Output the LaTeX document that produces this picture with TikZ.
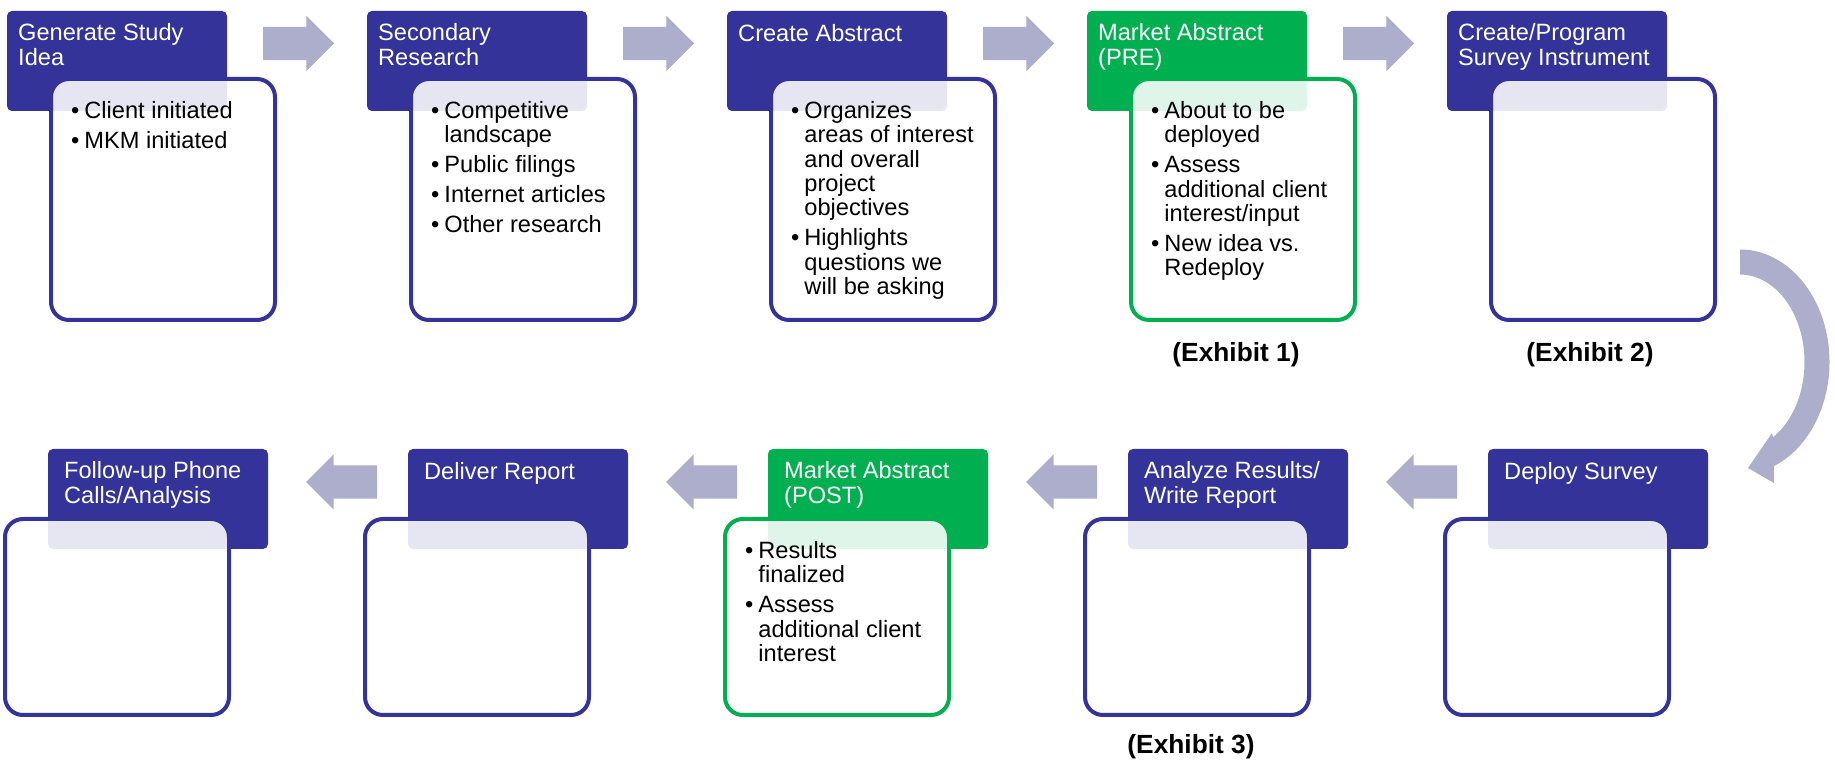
\documentclass[tikz,border=0pt]{standalone}
\usepackage{fontspec}
\setmainfont{Liberation Sans}
\usetikzlibrary{shapes.arrows}
\definecolor{hdrblue}{HTML}{333399}
\definecolor{hdrgreen}{HTML}{00B050}
\definecolor{arrowgray}{HTML}{ADADCC}
\newcommand{\bullets}[1]{\begin{tabular}{@{}l@{\hspace{5pt}}l@{}}#1\end{tabular}}
\tikzset{
  hdr/.style={rectangle, rounded corners=5pt, fill=#1, anchor=north west,
    minimum width=220pt, minimum height=100pt, inner sep=0pt, outer sep=0pt},
  hdr/.default=hdrblue,
  bodybox/.style={rectangle, rounded corners=18pt, draw=#1, line width=4pt,
    fill=white, fill opacity=0.88, anchor=north west, minimum width=224pt,
    inner sep=0pt, outer sep=0pt},
  bodybox/.default=hdrblue,
  hdrtext/.style={anchor=north west, inner sep=0pt, align=left, text=white,
    font=\fontsize{23.6}{25}\selectfont, execute at begin node=\strut},
  listtext/.style={anchor=north west, inner sep=0pt,
    font=\fontsize{23.6}{24.3}\selectfont},
  blockarr/.style={single arrow, fill=arrowgray, minimum height=71pt,
    inner xsep=0pt, inner ysep=16.5pt, single arrow head extend=11pt,
    single arrow head indent=0pt, outer sep=0pt, anchor=tail},
  exh/.style={anchor=base, inner sep=0pt, font=\bfseries\fontsize{26.3}{30}\selectfont}
}
\begin{document}
\begin{tikzpicture}[x=1pt,y=1pt]
\path[use as bounding box, fill=white] (0,0) rectangle (1835,765);
% top row
\node[hdr] (h1) at (7,754) {};
\node[hdr] (h2) at (367,754) {};
\node[hdr] (h3) at (727,754) {};
\node[hdr=hdrgreen] (h4) at (1087,754) {};
\node[hdr] (h5) at (1447,754) {};
\node[bodybox, minimum height=241pt] (b1) at (51,686) {};
\node[bodybox, minimum height=241pt] (b2) at (411,686) {};
\node[bodybox, minimum height=241pt] (b3) at (771,686) {};
\node[bodybox=hdrgreen, minimum height=241pt] (b4) at (1131,686) {};
\node[bodybox, minimum height=241pt] (b5) at (1491,686) {};
\node[hdrtext] (t1) at ([shift={(11,-12.5)}]h1.north west) {Generate Study\\Idea};
\node[hdrtext] (t2) at ([shift={(11,-12.5)}]h2.north west) {Secondary\\Research};
\node[hdrtext] (t3) at ([shift={(11,-12.5)}]h3.north west) {Create Abstract};
\node[hdrtext] (t4) at ([shift={(11,-12.5)}]h4.north west) {Market Abstract\\(PRE)};
\node[hdrtext] (t5) at ([shift={(11,-12.5)}]h5.north west) {Create/Program\\Survey Instrument};
\node[listtext] (l1) at ([shift={(20,-22)}]b1.north west)
  {\bullets{\textbullet & Client initiated\\[5.7pt] \textbullet & MKM initiated}};
\node[listtext] (l2) at ([shift={(20,-22)}]b2.north west)
  {\bullets{\textbullet & Competitive\\ & landscape\\[5.7pt] \textbullet & Public filings\\[5.7pt]
   \textbullet & Internet articles\\[5.7pt] \textbullet & Other research}};
\node[listtext] (l3) at ([shift={(20,-22)}]b3.north west)
  {\bullets{\textbullet & Organizes\\ & areas of interest\\ & and overall\\ & project\\ & objectives\\[5.7pt]
   \textbullet & Highlights\\ & questions we\\ & will be asking}};
\node[listtext] (l4) at ([shift={(20,-22)}]b4.north west)
  {\bullets{\textbullet & About to be\\ & deployed\\[5.7pt] \textbullet & Assess\\ & additional client\\ & interest/input\\[5.7pt]
   \textbullet & New idea vs.\\ & Redeploy}};
\node[exh] (e1) at (1236,403) {(Exhibit 1)};
\node[exh] (e2) at (1590,403) {(Exhibit 2)};
\node[blockarr] (a1) at (263,721.5) {};
\node[blockarr] (a2) at (623,721.5) {};
\node[blockarr] (a3) at (983,721.5) {};
\node[blockarr] (a4) at (1343,721.5) {};
% turn down to the second row
\fill[arrowgray] (1740,515.5) arc[start angle=90, end angle=-67.7, x radius=89.5, y radius=112.5]
  -- (1774,282) -- (1748,297) -- (1772,332) -- (1773,327.8)
  arc[start angle=-59.2, end angle=90, x radius=64.5, y radius=87.5] -- cycle;
% bottom row, right to left
\node[hdr] (h6) at (48,316) {};
\node[hdr] (h7) at (408,316) {};
\node[hdr=hdrgreen] (h8) at (768,316) {};
\node[hdr] (h9) at (1128,316) {};
\node[hdr] (h10) at (1488,316) {};
\node[bodybox, minimum height=196pt] (b6) at (5,246) {};
\node[bodybox, minimum height=196pt] (b7) at (365,246) {};
\node[bodybox=hdrgreen, minimum height=196pt] (b8) at (725,246) {};
\node[bodybox, minimum height=196pt] (b9) at (1085,246) {};
\node[bodybox, minimum height=196pt] (b10) at (1445,246) {};
\node[hdrtext] (t6) at ([shift={(16,-12.5)}]h6.north west) {Follow-up Phone\\Calls/Analysis};
\node[hdrtext] (t7) at ([shift={(16,-12.5)}]h7.north west) {Deliver Report};
\node[hdrtext] (t8) at ([shift={(16,-12.5)}]h8.north west) {Market Abstract\\(POST)};
\node[hdrtext] (t9) at ([shift={(16,-12.5)}]h9.north west) {Analyze Results/\\Write Report};
\node[hdrtext] (t10) at ([shift={(16,-12.5)}]h10.north west) {Deploy Survey};
\node[listtext] (l8) at ([shift={(20,-22)}]b8.north west)
  {\bullets{\textbullet & Results\\ & finalized\\[5.7pt] \textbullet & Assess\\ & additional client\\ & interest}};
\node[exh] (e3) at (1191,12) {(Exhibit 3)};
\node[blockarr, rotate=180] (a5) at (377,283) {};
\node[blockarr, rotate=180] (a6) at (737,283) {};
\node[blockarr, rotate=180] (a7) at (1097,283) {};
\node[blockarr, rotate=180] (a8) at (1457,283) {};
\end{tikzpicture}
\end{document}
